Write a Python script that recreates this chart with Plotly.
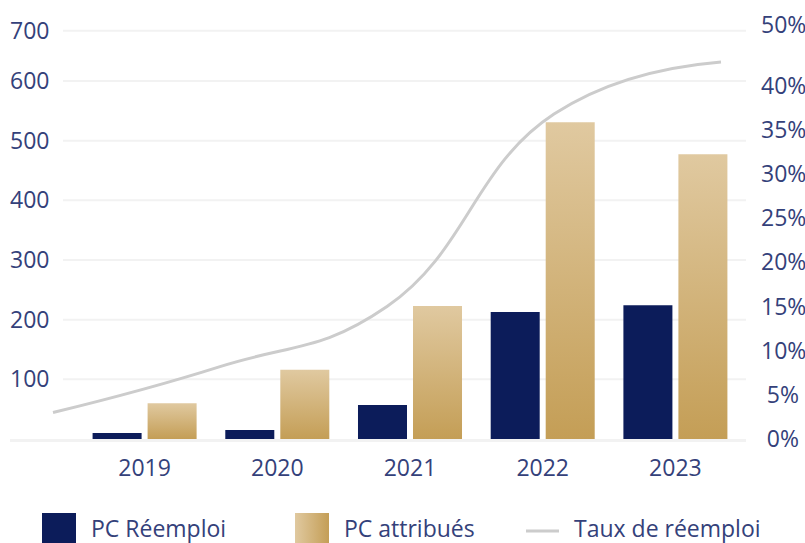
import plotly.graph_objects as go

# ---- data ----
years = ["2019", "2020", "2021", "2022", "2023"]
pc_reemploi = [10, 15, 57, 213, 224]
pc_attribues = [60, 116, 223, 531, 477]
taux_reemploi = [0.030, 0.082, 0.150, 0.368, 0.427]

left_tickvals = [100, 200, 300, 400, 500, 600, 684]
left_ticktext = ["100", "200", "300", "400", "500", "600", "700"]
right_tickvals = [0, 0.05, 0.10, 0.15, 0.20, 0.25, 0.30, 0.35, 0.40, 0.469]
right_ticktext = ["\u20050%", "\u20055%", "10%", "15%", "20%", "25%", "30%", "35%", "40%", "50%"]

NAVY = "#0c1c5a"
GOLD = "#d2b47c"
GOLD_MARK = "rgb(201, 170, 110)"
LINE = "#cccccc"
TXT = "#34417a"
FONT = "Open Sans"

W, H = 805, 543
ML, MR, MT, MB = 10, 59, 12, 104
PW, PH = W - ML - MR, H - MT - MB
PX_PER_UNIT = 0.5967      # left axis, px per PC
PX_PER_PCT = 8.83         # right axis, px per 1 %


def px(x):
    return (x - ML) / PW


def py(y):
    return (H - MB - y) / PH


fig = go.Figure()
fig.add_trace(go.Bar(x=years, y=pc_reemploi, name="PC Réemploi",
                     marker=dict(color=NAVY, line=dict(width=0)),
                     xaxis="x", yaxis="y", showlegend=False))
fig.add_trace(go.Bar(x=years, y=pc_attribues, name="PC attribués",
                     marker=dict(color=GOLD, line=dict(width=0)),
                     xaxis="x", yaxis="y", showlegend=False))
fig.add_trace(go.Scatter(x=years, y=taux_reemploi, name="Taux de réemploi",
                         mode="lines",
                         line=dict(color=LINE, width=3, shape="spline", smoothing=1.3),
                         xaxis="x2", yaxis="y2", showlegend=False))

shapes = []
for v in left_tickvals:
    shapes.append(dict(type="line", xref="paper", yref="y", x0=px(63), x1=1,
                       y0=v, y1=v, line=dict(color="#f2f2f2", width=2), layer="below"))

# manual legend
shapes.append(dict(type="rect", xref="paper", yref="paper", x0=px(42), x1=px(76),
                   y0=py(547), y1=py(513), fillcolor=NAVY, line=dict(width=0)))
shapes.append(dict(type="rect", xref="paper", yref="paper", x0=px(295), x1=px(329),
                   y0=py(547), y1=py(513), fillcolor=GOLD_MARK, line=dict(width=0)))
shapes.append(dict(type="line", xref="paper", yref="paper", x0=px(526), x1=px(559),
                   y0=py(531), y1=py(531), line=dict(color=LINE, width=3)))

annotations = []
for name, x in [("PC Réemploi", 89), ("PC attribués", 342), ("Taux de réemploi", 572)]:
    annotations.append(dict(text=name, xref="paper", yref="paper", x=px(x), y=py(528),
                            xanchor="left", yanchor="middle", showarrow=False,
                            font=dict(family=FONT, size=23, color=TXT)))

fig.update_layout(
    width=W, height=H,
    margin=dict(l=ML, r=MR, t=MT, b=MB, autoexpand=False),
    paper_bgcolor="white", plot_bgcolor="white",
    barmode="group", bargap=0.171, bargroupgap=0.109,
    font=dict(family=FONT, size=23, color=TXT),
    xaxis=dict(type="category", categoryorder="array", categoryarray=years,
               range=[-1.0143, 4.532], showgrid=False, zeroline=False,
               showline=True, linecolor="#f2f2f2", linewidth=3,
               ticks="", ticklabelstandoff=6, automargin=False,
               tickfont=dict(family=FONT, size=23, color=TXT)),
    xaxis2=dict(type="category", categoryorder="array", categoryarray=years,
                range=[-0.2575, 4.1497], overlaying="x", visible=False),
    yaxis=dict(range=[0, PH / PX_PER_UNIT], tickvals=left_tickvals, ticktext=left_ticktext,
               ticklabelposition="inside", ticklabelstandoff=-3, automargin=False,
               showgrid=False, zeroline=False, showline=False, ticks="",
               tickfont=dict(family=FONT, size=23, color=TXT)),
    yaxis2=dict(range=[0, PH / PX_PER_PCT / 100], overlaying="y", side="right",
                tickvals=right_tickvals, ticktext=right_ticktext,
                showgrid=False, zeroline=False, showline=False, ticks="",
                ticklabelstandoff=14, automargin=False,
                tickfont=dict(family=FONT, size=23, color=TXT)),
    shapes=shapes, annotations=annotations,
)

post_script = """
document.body.style.margin = '0';
document.body.style.padding = '0';
var gd = document.getElementById('{plot_id}');
function applyGrad() {
  var ns = 'http://www.w3.org/2000/svg';
  var svg = gd.querySelector('svg.main-svg');
  if (!svg) return;
  var defs = svg.querySelector('defs');
  if (!defs) { defs = document.createElementNS(ns, 'defs'); svg.insertBefore(defs, svg.firstChild); }
  function mk(id, x2, y2, c1, c2) {
    if (document.getElementById(id)) return;
    var g = document.createElementNS(ns, 'linearGradient');
    g.setAttribute('id', id);
    g.setAttribute('x1', '0'); g.setAttribute('y1', '0');
    g.setAttribute('x2', x2); g.setAttribute('y2', y2);
    [[0, c1], [1, c2]].forEach(function (s) {
      var st = document.createElementNS(ns, 'stop');
      st.setAttribute('offset', s[0]);
      st.setAttribute('stop-color', s[1]);
      g.appendChild(st);
    });
    defs.appendChild(g);
  }
  mk('goldV', '0', '1', '#e0c9a0', '#c49e56');
  mk('goldH', '1', '0', '#e0c9a0', '#c49e56');
  var traces = gd.querySelectorAll('.barlayer .trace');
  if (traces.length > 1) {
    traces[1].querySelectorAll('path').forEach(function (p) { p.style.fill = 'url(#goldV)'; });
  }
  gd.querySelectorAll('.shapelayer path').forEach(function (p) {
    if (p.style.fill === 'rgb(201, 170, 110)') { p.style.fill = 'url(#goldH)'; }
  });
}
applyGrad();
gd.on('plotly_afterplot', applyGrad);
"""

fig.write_html("out.html", post_script=post_script,
               config={"displayModeBar": False, "responsive": False})
